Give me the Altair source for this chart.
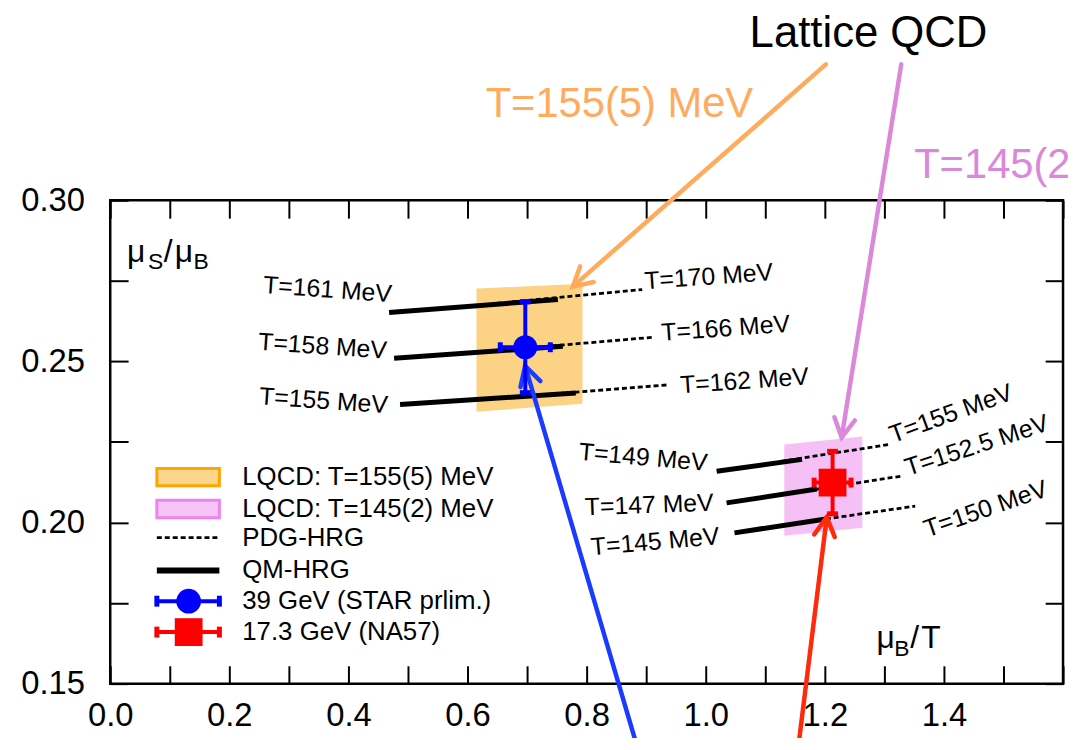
import math
import altair as alt
import pandas as pd

FONT = "Liberation Sans"
W, H = 960, 487
X_DOMAIN = [0.0, 1.6]
Y_DOMAIN = [0.15, 0.30]
PX_PER_X = W / (X_DOMAIN[1] - X_DOMAIN[0])
PX_PER_Y = H / (Y_DOMAIN[1] - Y_DOMAIN[0])

# ---------------- axis ticks ----------------
x_tick_values = [0.0, 0.1, 0.2, 0.3, 0.4, 0.5, 0.6, 0.7, 0.8, 0.9, 1.0, 1.1, 1.2, 1.3, 1.4, 1.5, 1.6]
x_tick_labels = ["0.0", "0.2", "0.4", "0.6", "0.8", "1.0", "1.2", "1.4"]
y_tick_values = [0.15, 0.175, 0.2, 0.225, 0.25, 0.275, 0.3]
y_tick_labels = ["0.15", "0.20", "0.25", "0.30"]

# ---------------- lattice QCD bands ----------------
band_names = ["LQCD: T=155(5) MeV", "LQCD: T=145(2) MeV"]
band_mu_left = [0.615, 1.132]
band_mu_right = [0.793, 1.263]
band_lo_left = [0.2344, 0.1959]
band_lo_right = [0.2369, 0.1984]
band_hi_left = [0.2726, 0.2242]
band_hi_right = [0.2741, 0.2267]

# ---------------- HRG curves (QM solid, PDG dashed) ----------------
hrg_group = ["a1", "a2", "a3", "b1", "b2", "b3"]
qm_mu0 = [0.4683, 0.4767, 0.4867, 1.0183, 1.0350, 1.0483]
qm_r0 = [0.2652, 0.2510, 0.2366, 0.2159, 0.2061, 0.1968]
qm_mu1 = [0.7517, 0.7600, 0.7817, 1.1617, 1.1867, 1.2017]
qm_r1 = [0.2692, 0.2547, 0.2402, 0.2196, 0.2104, 0.2011]
pdg_mu0 = [0.6483, 0.7150, 0.6200, 1.1267, 1.1867, 1.2017]
pdg_r0 = [0.2680, 0.2544, 0.2381, 0.2190, 0.2104, 0.2011]
pdg_mu1 = [0.8933, 0.9117, 0.9350, 1.3067, 1.3283, 1.3517]
pdg_r1 = [0.2723, 0.2575, 0.2427, 0.2242, 0.2144, 0.2051]

# ---------------- temperature labels ----------------
label_text = ["T=161 MeV", "T=158 MeV", "T=155 MeV", "T=149 MeV", "T=147 MeV", "T=145 MeV",
              "T=170 MeV", "T=166 MeV", "T=162 MeV", "T=155 MeV", "T=152.5 MeV", "T=150 MeV"]
label_mu = [0.365, 0.3567, 0.3583, 0.895, 0.905, 0.915, 1.005, 1.0333, 1.065, 1.4117, 1.455, 1.47]
label_r = [0.27228, 0.25472, 0.23778, 0.22023, 0.20544, 0.19405,
           0.27628, 0.26027, 0.24394, 0.23378, 0.22392, 0.20421]
label_angle = [4, 4, 4, 5, 358, 355, 356, 356, 356, 340, 342, 341]

# ---------------- measured points ----------------
pt_names = ["39 GeV (STAR prlim.)", "17.3 GeV (NA57)"]
pt_mu = [0.697, 1.213]
pt_r = [0.2544, 0.2124]
pt_mu_err = [0.042, 0.031]
pt_r_err = [0.0141, 0.0097]

# ---------------- arrows ----------------
arrow_names = ["orange", "pink", "blue", "red"]
arrow_mu_tail = [1.2017, 1.3283, 0.8900, 1.1533]
arrow_r_tail = [0.3422, 0.3422, 0.1272, 0.1272]
arrow_mu_tip = [0.7767, 1.2283, 0.6967, 1.2033]
arrow_r_tip = [0.2732, 0.2264, 0.2486, 0.2017]

# ---------------- annotations ----------------
ann_text = ["Lattice QCD", "T=155(5) MeV", "T=145(2) MeV"]
ann_mu = [1.2733, 0.855, 1.350]
ann_r = [0.34743, 0.32587, 0.30678]

ytitle_text = ["μ", "S", "/", "μ", "B"]
ytitle_mu = [0.0283, 0.0633, 0.0900, 0.1083, 0.1400]
ytitle_r = [0.2809, 0.27875, 0.2809, 0.2809, 0.27875]
ytitle_fs = [32, 23, 32, 32, 23]
xtitle_text = ["μ", "B", "/", "T"]
xtitle_mu = [1.2867, 1.3167, 1.3433, 1.3617]
xtitle_r = [0.16109, 0.15863, 0.16109, 0.16109]
xtitle_fs = [32, 23, 32, 32]

# ---------------- legend ----------------
legend_labels = ["LQCD: T=155(5) MeV", "LQCD: T=145(2) MeV", "PDG-HRG", "QM-HRG",
                 "39 GeV (STAR prlim.)", "17.3 GeV (NA57)"]
legend_r = [0.2141, 0.2042, 0.1953, 0.1851, 0.1756, 0.1660]
LEG_MU_LO, LEG_MU_HI, LEG_MU_MID, LEG_TEXT_MU = 0.0783, 0.1833, 0.1317, 0.2217
LEG_HALF = 0.0027

# ---------------- styles ----------------
BAND_FILL = ["#FCD385", "#F5C0F5"]
LEG_FILL = ["#FDD58B", "#F5C3F5"]
LEG_STROKE = ["#FFA500", "#EE82EE"]
ARROW_COL = ["#FFAB5E", "#DA88DA", "#1A3BFF", "#FF2A0A"]
PT_COL = ["#0000FF", "#FF0000"]
CHEVRON = "M -0.55 1 L 0 0 L 0.55 1"

XS = alt.Scale(domain=X_DOMAIN, nice=False, zero=False)
YS = alt.Scale(domain=Y_DOMAIN, nice=False, zero=False)


def ex(f):
    return alt.X(f"{f}:Q", scale=XS, axis=None)


def ey(f):
    return alt.Y(f"{f}:Q", scale=YS, axis=None)


def col(f="c"):
    return alt.Color(f"{f}:N", scale=None, legend=None)


def px_angle(x0, y0, x1, y1):
    dx = (x1 - x0) * PX_PER_X
    dy = -(y1 - y0) * PX_PER_Y
    L = math.hypot(dx, dy)
    return math.degrees(math.atan2(dx / L, -dy / L)) % 360


layers = []

# axes (bottom/left with labels, top/right mirrored ticks)
axis_df = pd.DataFrame({"x": X_DOMAIN, "y": Y_DOMAIN})
xl = "[" + ",".join(f"'{s}'" for s in x_tick_labels) + "]"
yl = "[" + ",".join(f"'{s}'" for s in y_tick_labels) + "]"
common = dict(tickColor="black", tickWidth=2, tickSize=18, offset=-18, domain=False, grid=False,
              labelFont=FONT, labelFontSize=33, labelColor="black", labelFlush=False,
              labelOverlap=False, title="")
layers.append(alt.Chart(axis_df).mark_point(opacity=0).encode(
    x=alt.X("x:Q", scale=XS, axis=alt.Axis(
        orient="bottom", values=x_tick_values, labelPadding=16,
        labelExpr=f"indexof({xl}, format(datum.value, '.1f')) >= 0 && abs(datum.value*5 - round(datum.value*5)) < 1e-6 ? format(datum.value, '.1f') : ''",
        **common)),
    y=alt.Y("y:Q", scale=YS, axis=alt.Axis(
        orient="left", values=y_tick_values, labelPadding=26,
        labelExpr=f"indexof({yl}, format(datum.value, '.2f')) >= 0 && abs(datum.value*20 - round(datum.value*20)) < 1e-6 ? format(datum.value, '.2f') : ''",
        **common)),
))
layers.append(alt.Chart(axis_df).mark_point(opacity=0).encode(
    x=alt.X("x:Q", scale=XS, axis=alt.Axis(orient="top", values=x_tick_values, labels=False, **common)),
    y=alt.Y("y:Q", scale=YS, axis=alt.Axis(orient="right", values=y_tick_values, labels=False, **common)),
))

# bands
band_rows = []
for i, b in enumerate(band_names):
    band_rows.append({"band": b, "c": BAND_FILL[i], "mu": band_mu_left[i], "lo": band_lo_left[i], "hi": band_hi_left[i]})
    band_rows.append({"band": b, "c": BAND_FILL[i], "mu": band_mu_right[i], "lo": band_lo_right[i], "hi": band_hi_right[i]})
band_df = pd.DataFrame(band_rows)
layers.append(alt.Chart(band_df).mark_area(orient="vertical", opacity=1).encode(
    x=ex("mu"), y=ey("lo"), y2=alt.Y2("hi"), color=col(), detail="band:N"))

# HRG lines
qm_df = pd.DataFrame({"g": hrg_group, "mu0": qm_mu0, "r0": qm_r0, "mu1": qm_mu1, "r1": qm_r1})
pdg_df = pd.DataFrame({"g": hrg_group, "mu0": pdg_mu0, "r0": pdg_r0, "mu1": pdg_mu1, "r1": pdg_r1})
layers.append(alt.Chart(qm_df).mark_rule(color="black", strokeWidth=5, strokeCap="butt").encode(
    x=ex("mu0"), y=ey("r0"), x2=alt.X2("mu1"), y2=alt.Y2("r1")))
layers.append(alt.Chart(pdg_df).mark_rule(color="black", strokeWidth=2.8, strokeDash=[5, 3], strokeCap="butt").encode(
    x=ex("mu0"), y=ey("r0"), x2=alt.X2("mu1"), y2=alt.Y2("r1")))

# temperature labels
lab_df = pd.DataFrame({"t": label_text, "mu": label_mu, "r": label_r, "a": label_angle})
layers.append(alt.Chart(lab_df).mark_text(font=FONT, fontSize=25, color="black", align="center", baseline="middle").encode(
    x=ex("mu"), y=ey("r"), text="t:N", angle=alt.Angle("a:Q", scale=None)))

# arrows
arr_df = pd.DataFrame({"n": arrow_names, "c": ARROW_COL, "mu0": arrow_mu_tail, "r0": arrow_r_tail,
                       "mu1": arrow_mu_tip, "r1": arrow_r_tip})
arr_df["a"] = [px_angle(a, b, c, d) for a, b, c, d in zip(arrow_mu_tail, arrow_r_tail, arrow_mu_tip, arrow_r_tip)]
layers.append(alt.Chart(arr_df).mark_rule(strokeWidth=4.5, strokeCap="round").encode(
    x=ex("mu0"), y=ey("r0"), x2=alt.X2("mu1"), y2=alt.Y2("r1"), color=col()))
layers.append(alt.Chart(arr_df).mark_point(shape=CHEVRON, filled=False, size=1444, strokeWidth=4.5,
                                          strokeCap="round", strokeJoin="miter", opacity=1).encode(
    x=ex("mu1"), y=ey("r1"), angle=alt.Angle("a:Q", scale=None), stroke=alt.Stroke("c:N", scale=None, legend=None)))

# measured points with error bars
pt_df = pd.DataFrame({"n": pt_names, "c": PT_COL, "mu": pt_mu, "r": pt_r})
pt_df["mlo"] = [m - e for m, e in zip(pt_mu, pt_mu_err)]
pt_df["mhi"] = [m + e for m, e in zip(pt_mu, pt_mu_err)]
pt_df["rlo"] = [m - e for m, e in zip(pt_r, pt_r_err)]
pt_df["rhi"] = [m + e for m, e in zip(pt_r, pt_r_err)]
pstroke = alt.Stroke("c:N", scale=None, legend=None)
layers.append(alt.Chart(pt_df).mark_rule(strokeWidth=4).encode(
    x=ex("mlo"), x2=alt.X2("mhi"), y=ey("r"), color=col()))
layers.append(alt.Chart(pt_df).mark_rule(strokeWidth=4).encode(
    x=ex("mu"), y=ey("rlo"), y2=alt.Y2("rhi"), color=col()))
for f in ["rlo", "rhi"]:
    layers.append(alt.Chart(pt_df).mark_point(shape="stroke", size=121, strokeWidth=5, opacity=1).encode(
        x=ex("mu"), y=ey(f), stroke=pstroke))
for f in ["mlo", "mhi"]:
    layers.append(alt.Chart(pt_df).mark_point(shape="stroke", size=100, strokeWidth=5, opacity=1, angle=90).encode(
        x=ex(f), y=ey("r"), stroke=pstroke))
layers.append(alt.Chart(pt_df.iloc[[0]]).mark_point(shape="circle", filled=True, size=580, opacity=1).encode(
    x=ex("mu"), y=ey("r"), color=col()))
layers.append(alt.Chart(pt_df.iloc[[1]]).mark_point(shape="square", filled=True, size=784, opacity=1).encode(
    x=ex("mu"), y=ey("r"), color=col()))

# annotations outside the frame
ann_df = pd.DataFrame({"t": ann_text, "mu": ann_mu, "r": ann_r})
layers.append(alt.Chart(ann_df.iloc[[0]]).mark_text(font=FONT, fontSize=44, color="black", align="center", baseline="alphabetic").encode(
    x=ex("mu"), y=ey("r"), text="t:N"))
layers.append(alt.Chart(ann_df.iloc[[1]]).mark_text(font=FONT, fontSize=42, color=ARROW_COL[0], align="center", baseline="alphabetic").encode(
    x=ex("mu"), y=ey("r"), text="t:N"))
layers.append(alt.Chart(ann_df.iloc[[2]]).mark_text(font=FONT, fontSize=42, color=ARROW_COL[1], align="left", baseline="alphabetic").encode(
    x=ex("mu"), y=ey("r"), text="t:N"))

# axis titles inside the frame
yt_df = pd.DataFrame({"t": ytitle_text, "mu": ytitle_mu, "r": ytitle_r, "fs": ytitle_fs})
xt_df = pd.DataFrame({"t": xtitle_text, "mu": xtitle_mu, "r": xtitle_r, "fs": xtitle_fs})
for d in (yt_df, xt_df):
    layers.append(alt.Chart(d).mark_text(font=FONT, color="black", align="left", baseline="alphabetic").encode(
        x=ex("mu"), y=ey("r"), text="t:N", size=alt.Size("fs:Q", scale=None)))

# legend
leg_band = pd.DataFrame({"band": band_names, "f": LEG_FILL, "s": LEG_STROKE,
                         "lo": [r - LEG_HALF for r in legend_r[:2]],
                         "hi": [r + LEG_HALF for r in legend_r[:2]],
                         "x0": [LEG_MU_LO] * 2, "x1": [LEG_MU_HI] * 2})
layers.append(alt.Chart(leg_band).mark_rect(strokeWidth=3).encode(
    x=ex("x0"), x2=alt.X2("x1"), y=ey("lo"), y2=alt.Y2("hi"),
    fill=alt.Fill("f:N", scale=None, legend=None),
    stroke=alt.Stroke("s:N", scale=None, legend=None)))
leg_line = pd.DataFrame({"x0": [LEG_MU_LO], "x1": [LEG_MU_HI], "r": [legend_r[2]]})
layers.append(alt.Chart(leg_line).mark_rule(color="black", strokeWidth=2.8, strokeDash=[5, 3], strokeCap="butt").encode(
    x=ex("x0"), x2=alt.X2("x1"), y=ey("r")))
leg_solid = pd.DataFrame({"x0": [LEG_MU_LO], "x1": [LEG_MU_HI], "r": [legend_r[3]]})
layers.append(alt.Chart(leg_solid).mark_rule(color="black", strokeWidth=6, strokeCap="butt").encode(
    x=ex("x0"), x2=alt.X2("x1"), y=ey("r")))
leg_pt = pd.DataFrame({"n": pt_names, "c": PT_COL, "x0": [LEG_MU_LO] * 2, "x1": [LEG_MU_HI] * 2,
                       "xm": [LEG_MU_MID] * 2, "r": legend_r[4:]})
layers.append(alt.Chart(leg_pt).mark_rule(strokeWidth=4).encode(
    x=ex("x0"), x2=alt.X2("x1"), y=ey("r"), color=col()))
for f in ["x0", "x1"]:
    layers.append(alt.Chart(leg_pt).mark_point(shape="stroke", size=121, strokeWidth=5, opacity=1, angle=90).encode(
        x=ex(f), y=ey("r"), stroke=pstroke))
layers.append(alt.Chart(leg_pt.iloc[[0]]).mark_point(shape="circle", filled=True, size=620, opacity=1).encode(
    x=ex("xm"), y=ey("r"), color=col()))
layers.append(alt.Chart(leg_pt.iloc[[1]]).mark_point(shape="square", filled=True, size=784, opacity=1).encode(
    x=ex("xm"), y=ey("r"), color=col()))
leg_txt = pd.DataFrame({"t": legend_labels, "x": [LEG_TEXT_MU] * 6, "r": legend_r})
layers.append(alt.Chart(leg_txt).mark_text(font=FONT, fontSize=26, color="black", align="left", baseline="middle").encode(
    x=ex("x"), y=ey("r"), text="t:N"))

chart = alt.layer(*layers).resolve_axis(x="independent", y="independent").properties(
    width=W, height=H,
    padding={"left": 103, "top": 191, "right": 5, "bottom": 52},
    autosize=alt.AutoSizeParams(type="none"),
    background="white",
).configure_view(stroke="black", strokeWidth=2.5)

chart.save("out.html", embed_options={"renderer": "svg", "actions": False})
